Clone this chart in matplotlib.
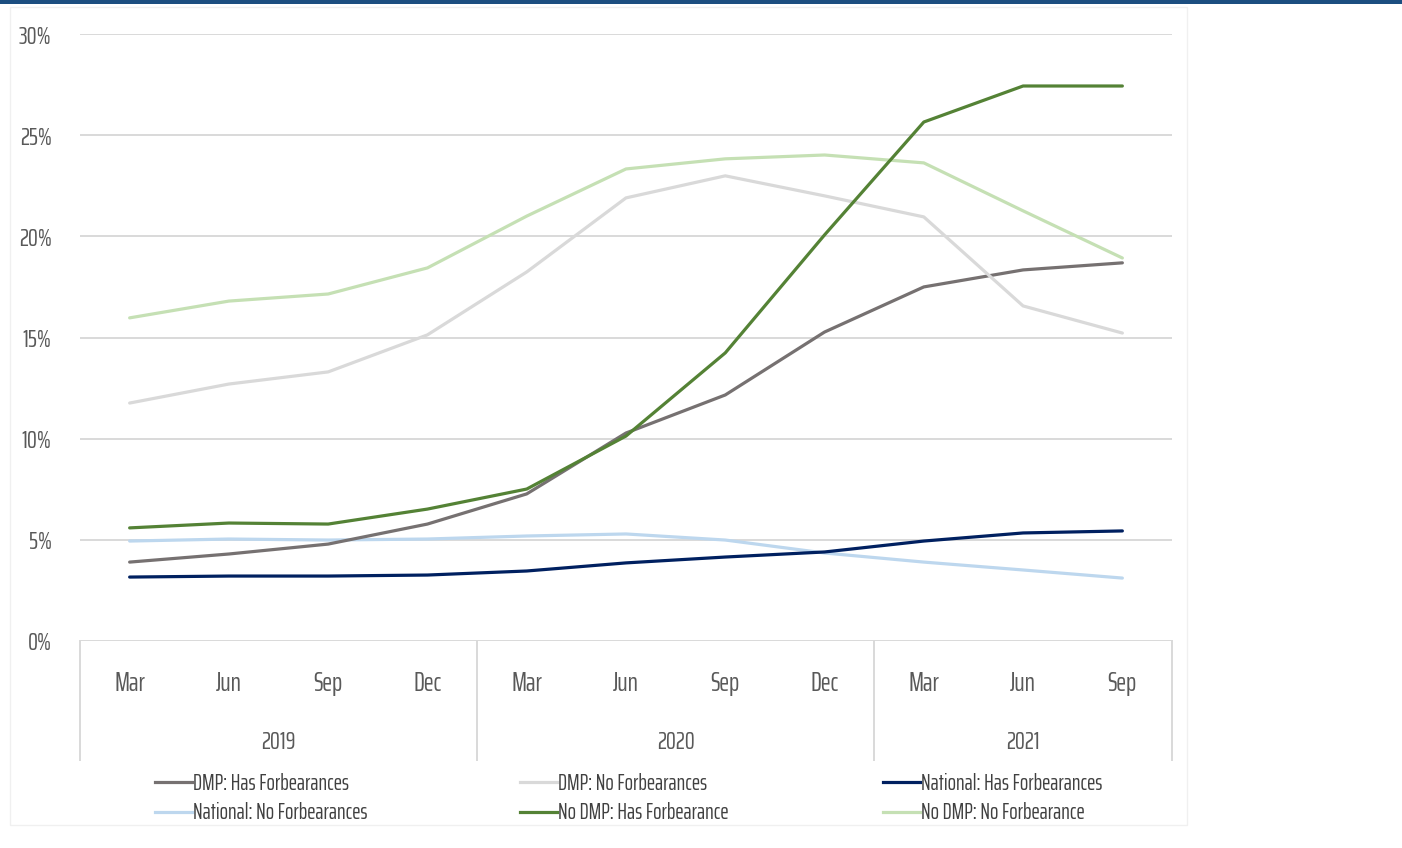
import matplotlib
matplotlib.use("Agg")
import matplotlib.pyplot as plt
from matplotlib.lines import Line2D
from matplotlib.patches import Rectangle

plt.rcParams["font.family"] = ["Saira ExtraCondensed", "DejaVu Sans"]

months = ["Mar", "Jun", "Sep", "Dec", "Mar", "Jun", "Sep", "Dec", "Mar", "Jun", "Sep"]
years = ["2019", "2020", "2021"]
year_counts = [4, 4, 3]
y_ticks = [0, 5, 10, 15, 20, 25, 30]

dmp_has = [3.90, 4.30, 4.79, 5.78, 7.27, 10.28, 12.16, 15.27, 17.50, 18.34, 18.69]
dmp_no = [11.76, 12.70, 13.30, 15.13, 18.24, 21.90, 22.99, 22.00, 20.96, 16.56, 15.22]
national_has = [3.16, 3.21, 3.21, 3.26, 3.46, 3.86, 4.15, 4.40, 4.94, 5.34, 5.44]
national_no = [4.94, 5.04, 4.99, 5.04, 5.19, 5.29, 4.99, 4.35, 3.90, 3.51, 3.11]
nodmp_has = [5.59, 5.83, 5.78, 6.52, 7.51, 10.13, 14.24, 20.07, 25.65, 27.43, 27.43]
nodmp_no = [15.97, 16.80, 17.15, 18.44, 21.00, 23.33, 23.83, 24.02, 23.63, 21.26, 18.93]

series = [
    ("DMP: Has Forbearances", dmp_has, "#767171"),
    ("DMP: No Forbearances", dmp_no, "#d9d9d9"),
    ("National: Has Forbearances", national_has, "#002060"),
    ("National: No Forbearances", national_no, "#bdd7ee"),
    ("No DMP: Has Forbearance", nodmp_has, "#548235"),
    ("No DMP: No Forbearance", nodmp_no, "#c5e0b4"),
]

TEXT = "#595959"
GRID = "#d9d9d9"

W, H = 1402, 848
fig = plt.figure(figsize=(W / 100, H / 100), dpi=100)
fig.patch.set_facecolor("white")

# header band and faint outer frame
fig.add_artist(Rectangle((0, 1 - 4 / H), 1, 4 / H, transform=fig.transFigure,
                         facecolor="#1c4e80", edgecolor="none"))
fig.add_artist(Rectangle((10 / W, 1 - 825 / H), 1177 / W, 818 / H, transform=fig.transFigure,
                         facecolor="none", edgecolor="#f0f0f0", linewidth=1.0))

left, right, top, bottom = 80, 1172, 34, 641
ax = fig.add_axes([left / W, 1 - bottom / H, (right - left) / W, (bottom - top) / H])
ax.set_xlim(-0.5, len(months) - 0.5)
ax.set_ylim(0, 30)
for s in ax.spines.values():
    s.set_visible(False)
ax.set_yticks(y_ticks)
ax.set_yticklabels([f"{v}%" for v in y_ticks])
ax.tick_params(axis="y", length=0, pad=20.5, labelsize=18, labelcolor=TEXT)
ax.set_xticks([])
ax.grid(axis="y", color=GRID, linewidth=1.4)
ax.set_axisbelow(True)

x = list(range(len(months)))
order = [3, 2, 0, 1, 5, 4]
for i in order:
    name, vals, col = series[i]
    ax.plot(x, vals, color=col, linewidth=2.3, solid_capstyle="round", zorder=3)

# two-level category axis
trans = ax.get_xaxis_transform()
span = bottom - top
sep_bottom = -(760 - bottom) / span
month_base = -(691 - bottom) / span
year_base = -(749 - bottom) / span
for i, m in enumerate(months):
    ax.text(i, month_base, m, transform=trans, ha="center", va="baseline",
            fontsize=19, color=TEXT)
start = 0
bounds = [-0.5]
for yr, n in zip(years, year_counts):
    ax.text(start + (n - 1) / 2, year_base, yr, transform=trans, ha="center", va="baseline",
            fontsize=18, color=TEXT)
    start += n
    bounds.append(start - 0.5)
for b in bounds:
    ax.add_line(Line2D([b, b], [0, sep_bottom], transform=trans, color=GRID,
                       linewidth=1.4, clip_on=False))

# legend: three columns of two entries
handles = [Line2D([], [], color=c, linewidth=2.3) for _, _, c in series]
labels = [n for n, _, _ in series]
columns = [(0, 3), (1, 4), (2, 5)]
col_x = [155, 520, 883]
for (a, b), cx in zip(columns, col_x):
    fig.legend([handles[a], handles[b]], [labels[a], labels[b]],
               loc="center left", bbox_to_anchor=(cx / W, 1 - 798 / H),
               frameon=False, fontsize=16, handlelength=1.65, handletextpad=0.05,
               labelspacing=0.4, labelcolor="#404040",
               borderpad=0, borderaxespad=0)

fig.savefig("out.png", dpi=100, facecolor="white")
